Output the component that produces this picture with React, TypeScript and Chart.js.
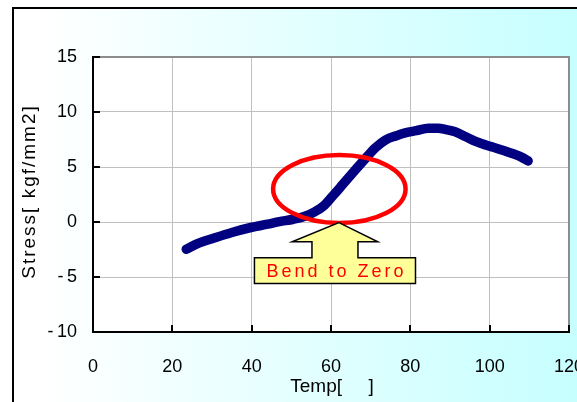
import React, { useEffect, useRef } from 'react';
import { Chart, registerables } from 'chart.js';

Chart.register(...registerables);

// ---- data ----
const temps = [23.5, 26.5, 30.2, 35.0, 39.8, 44.0, 47.0, 50.5, 53.6, 56.0, 58.0, 60.5, 62.9, 65.8, 68.8, 71.2, 73.7, 76.5, 78.7, 81.5, 84.6, 87.0, 89.0, 91.3, 94.0, 96.3, 99.0, 101.3, 103.5, 105.5, 108.0, 109.7];
const stress = [-2.48, -1.95, -1.5, -0.95, -0.5, -0.2, 0.03, 0.25, 0.55, 0.95, 1.42, 2.4, 3.39, 4.6, 5.82, 6.75, 7.45, 7.85, 8.1, 8.3, 8.52, 8.52, 8.4, 8.2, 7.75, 7.35, 7.0, 6.75, 6.5, 6.25, 5.9, 5.55];

const xTicks = [0, 20, 40, 60, 80, 100, 120];
const yTicks = [-10, -5, 0, 5, 10, 15];

const xTitle = 'Temp[     ]';
const yTitle = 'Stress[ kgf/mm2]';
const calloutText = 'Bend to Zero';

// annotation geometry, in data units
const ellipseCenter = { x: 62.1, y: 3.0 };
const ellipseRadius = { x: 16.7, y: 3.1 };
const arrowTip = { x: 62.0, y: -0.05 };
const arrowHeadBase = { y: -1.8, left: 50.2, right: 71.8 };
const arrowShaft = { left: 55.2, right: 66.8, bottom: -3.25 };
const calloutBox = { left: 40.7, right: 81.3, bottom: -5.6 };
const calloutTextPos = { x: 61.0, y: -4.55 };

const FONT = '"Liberation Sans", Arial, sans-serif';

const fmtY = (v: number) => (v < 0 ? '-\u2009' + Math.abs(v) : String(v));

const annotPlugin = {
  id: 'annot',
  beforeDraw(chart: any) {
    const { ctx, chartArea: a } = chart;
    ctx.save();
    ctx.fillStyle = '#ffffff';
    ctx.fillRect(a.left, a.top, a.right - a.left, a.bottom - a.top);
    ctx.restore();
  },
  afterDraw(chart: any) {
    const { ctx, chartArea: a } = chart;
    const xs = chart.scales.x;
    const ys = chart.scales.y;
    const px = (v: number) => xs.getPixelForValue(v);
    const py = (v: number) => ys.getPixelForValue(v);
    ctx.save();

    // top and right frame of plot area
    ctx.strokeStyle = '#8c8c8c';
    ctx.lineWidth = 2;
    ctx.beginPath();
    ctx.moveTo(a.left, a.top);
    ctx.lineTo(a.right, a.top);
    ctx.lineTo(a.right, a.bottom);
    ctx.stroke();

    // inner tick marks
    ctx.strokeStyle = '#000000';
    ctx.lineWidth = 2;
    ctx.beginPath();
    xTicks.forEach((t) => {
      const x = Math.round(px(t));
      ctx.moveTo(x, a.bottom);
      ctx.lineTo(x, a.bottom - 7);
    });
    yTicks.forEach((t) => {
      const y = Math.round(py(t));
      ctx.moveTo(a.left, y);
      ctx.lineTo(a.left + 7, y);
    });
    ctx.stroke();

    // red ellipse
    const cx = px(ellipseCenter.x);
    const cy = py(ellipseCenter.y);
    const rx = Math.abs(px(ellipseCenter.x + ellipseRadius.x) - cx);
    const ry = Math.abs(py(ellipseCenter.y + ellipseRadius.y) - cy);
    ctx.strokeStyle = '#ff0000';
    ctx.lineWidth = 4.5;
    ctx.beginPath();
    ctx.ellipse(cx, cy, rx, ry, 0, 0, Math.PI * 2);
    ctx.stroke();

    // callout arrow
    ctx.beginPath();
    ctx.moveTo(px(arrowTip.x), py(arrowTip.y));
    ctx.lineTo(px(arrowHeadBase.right), py(arrowHeadBase.y));
    ctx.lineTo(px(arrowShaft.right), py(arrowHeadBase.y));
    ctx.lineTo(px(arrowShaft.right), py(arrowShaft.bottom));
    ctx.lineTo(px(calloutBox.right), py(arrowShaft.bottom));
    ctx.lineTo(px(calloutBox.right), py(calloutBox.bottom));
    ctx.lineTo(px(calloutBox.left), py(calloutBox.bottom));
    ctx.lineTo(px(calloutBox.left), py(arrowShaft.bottom));
    ctx.lineTo(px(arrowShaft.left), py(arrowShaft.bottom));
    ctx.lineTo(px(arrowShaft.left), py(arrowHeadBase.y));
    ctx.lineTo(px(arrowHeadBase.left), py(arrowHeadBase.y));
    ctx.closePath();
    ctx.fillStyle = '#ffff99';
    ctx.fill();
    ctx.strokeStyle = '#000000';
    ctx.lineWidth = 1.5;
    ctx.stroke();

    // callout text
    ctx.fillStyle = '#ff0000';
    ctx.font = `18px ${FONT}`;
    (ctx as any).letterSpacing = '3px';
    ctx.textAlign = 'center';
    ctx.textBaseline = 'middle';
    ctx.fillText(calloutText, px(calloutTextPos.x) + 1.5, py(calloutTextPos.y));

    // axis titles
    ctx.fillStyle = '#000000';
    ctx.font = `19px ${FONT}`;
    (ctx as any).letterSpacing = '0px';
    ctx.fillText(xTitle, (a.left + a.right) / 2 + 1, 387);
    ctx.save();
    ctx.translate(30, (a.top + a.bottom) / 2 - 3);
    ctx.rotate(-Math.PI / 2);
    ctx.font = `19px ${FONT}`;
    (ctx as any).letterSpacing = '2px';
    ctx.fillText(yTitle, 0, 0);
    ctx.restore();

    ctx.restore();
  },
};

export default function App() {
  const ref = useRef<HTMLCanvasElement | null>(null);

  useEffect(() => {
    if (!ref.current) return;
    const points = temps.map((t, i) => ({ x: t, y: stress[i] }));
    const chart = new Chart(ref.current, {
      type: 'line',
      data: {
        datasets: [
          {
            data: points,
            borderColor: '#000080',
            backgroundColor: '#000080',
            borderWidth: 9.5,
            pointRadius: 0,
            tension: 0.4,
            cubicInterpolationMode: 'monotone',
            borderCapStyle: 'round',
            borderJoinStyle: 'round',
            fill: false,
          },
        ],
      },
      options: {
        responsive: false,
        animation: false,
        events: [],
        layout: { padding: { left: 0, top: 57, right: 8, bottom: 0 } },
        plugins: { legend: { display: false }, tooltip: { enabled: false } },
        scales: {
          x: {
            type: 'linear',
            min: 0,
            max: 120,
            afterBuildTicks: (s: any) => {
              s.ticks = xTicks.map((v) => ({ value: v }));
            },
            afterFit: (s: any) => {
              s.height = 70;
              s.paddingLeft = 0;
              s.paddingRight = 0;
            },
            ticks: {
              color: '#000000',
              font: { family: FONT, size: 18 },
              padding: 24,
              maxRotation: 0,
              autoSkip: false,
            },
            grid: { color: '#c0c0c0', lineWidth: 1, drawTicks: false },
            border: { color: '#000000', width: 2 },
          },
          y: {
            type: 'linear',
            min: -10,
            max: 15,
            afterBuildTicks: (s: any) => {
              s.ticks = yTicks.map((v) => ({ value: v }));
            },
            afterFit: (s: any) => {
              s.width = 93;
              s.paddingTop = 0;
              s.paddingBottom = 0;
            },
            ticks: {
              color: '#000000',
              font: { family: FONT, size: 18 },
              padding: 16,
              autoSkip: false,
              callback: (v: any) => fmtY(Number(v)),
            },
            grid: { color: '#c0c0c0', lineWidth: 1, drawTicks: false },
            border: { color: '#000000', width: 2 },
          },
        },
      },
      plugins: [annotPlugin],
    });
    return () => chart.destroy();
  }, []);

  return (
    <div style={{ position: 'absolute', left: 0, top: 0, width: 577, height: 402, overflow: 'hidden' }}>
      <div
        style={{
          position: 'absolute',
          left: 12,
          top: 7,
          right: -4,
          bottom: -4,
          borderLeft: '2px solid #000',
          borderTop: '2px solid #000',
          background: 'linear-gradient(to right, #ffffff 0%, #ffffff 5%, #c6ffff 100%)',
        }}
      />
      <canvas
        ref={ref}
        width={577}
        height={402}
        style={{ position: 'absolute', left: 0, top: 0, width: 577, height: 402 }}
      />
    </div>
  );
}
